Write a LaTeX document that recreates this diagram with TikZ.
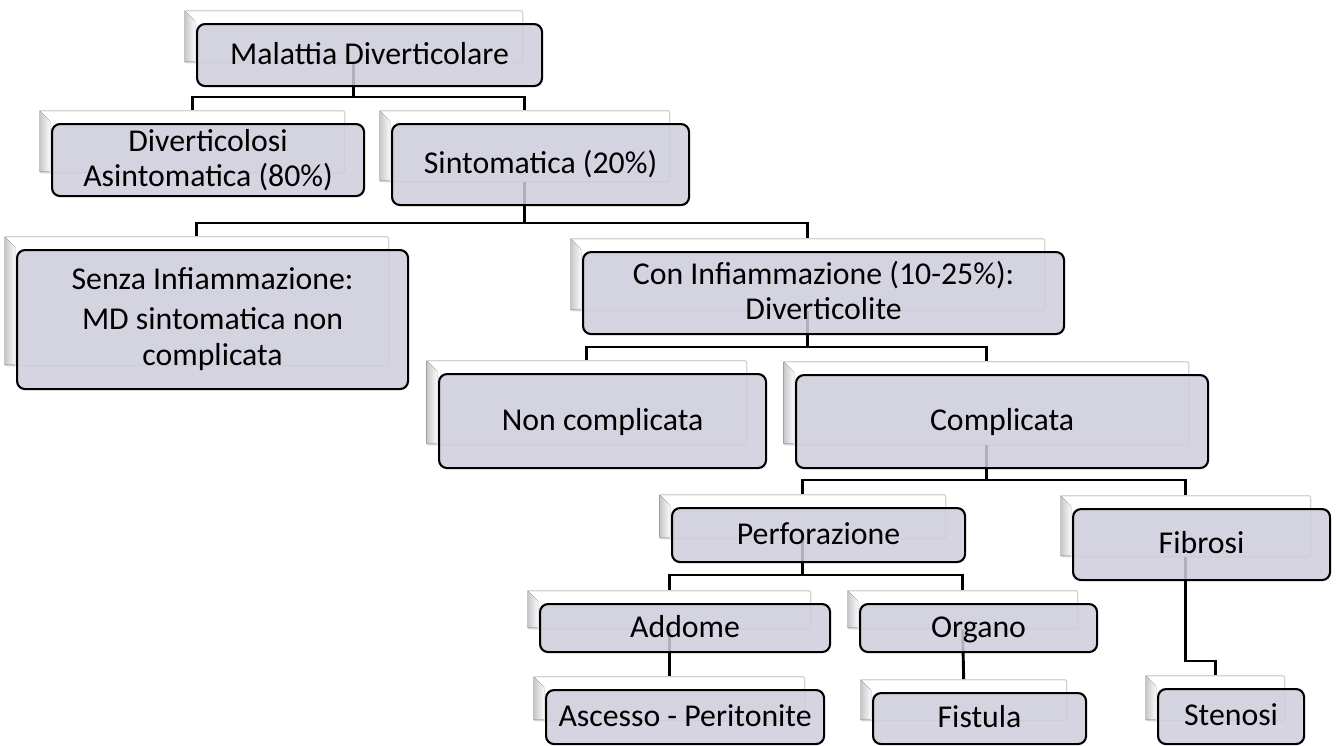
\documentclass[tikz,border=0pt]{standalone}
\usepackage{fontspec}
\setmainfont{Carlito}
\usetikzlibrary{calc}

\definecolor{boxfill}{RGB}{206,205,219}
\definecolor{ghostline}{RGB}{212,212,212}
\definecolor{bevel}{RGB}{200,200,204}

\tikzset{
  ghost/.style={draw=ghostline, line width=1.3pt, fill=white, rounded corners=2pt,
    inner sep=0pt, anchor=north west},
  orgnode/.style={draw=black, line width=2.1pt, fill=boxfill, fill opacity=0.86,
    text opacity=1, rounded corners=8pt, inner sep=0pt, anchor=north west,
    align=center, font=\fontsize{31.8}{35}\selectfont},
  conn/.style={draw=black, line width=2.9pt}
}

% struts that fix the height and depth of the first and last text lines
\newcommand\topstrut{\rule{0pt}{24pt}}
\newcommand\botstrut{\rule[-6pt]{0pt}{6pt}}

% back plate of a box: ghost outline and a shaded left bevel
% #1 id, #2 left, #3 top, #4 right, #5 bottom (of the front box)
\newcommand\backplate[5]{%
  \node[ghost, minimum width={#4-#2-7}, minimum height={#5-#3-10}]
    (g#1) at ({#2-12},{#3-13}) {};
  \fill[left color=bevel, right color=white!90!bevel]
    ({#2-11.3},{#3-12.3}) -- ({#2-1},{#3-2}) -- ({#2-1},{#5-23.7}) -- ({#2-11.3},{#5-23.7}) -- cycle;
}
% front box with its text
\newcommand\frontbox[6]{%
  \node[orgnode, minimum width={#4-#2}, minimum height={#5-#3}] (#1) at (#2,#3)
    {\topstrut#6\botstrut};
}

\begin{document}
\begin{tikzpicture}[x=1pt,y=-1pt]
\useasboundingbox (0,0) rectangle (1337,745);

% back plates
\backplate{mal}{196}{23}{541}{85}
\backplate{div}{51}{123}{363}{195}
\backplate{sin}{391}{123}{688}{204}
\backplate{sen}{16}{249}{407}{388}
\backplate{con}{582}{251}{1063}{333}
\backplate{non}{438}{373}{765}{467}
\backplate{com}{795}{374}{1207}{467}
\backplate{per}{671}{507}{964}{561}
\backplate{fib}{1072}{508}{1329}{579}
\backplate{add}{539}{603}{829}{651}
\backplate{org}{859}{603}{1096}{651}
\backplate{asc}{545}{689}{823}{743}
\backplate{fis}{872}{692}{1085}{743}
\backplate{ste}{1157}{688}{1303}{743}

% bus levels
\coordinate (b1) at (0,97);
\coordinate (b2) at (0,223);
\coordinate (b3) at (0,347);
\coordinate (b4) at (0,480);
\coordinate (b5) at (0,575);
\coordinate (b6) at (0,661);

% connectors
\draw[conn] (gmal.south) -- (gmal.south |- b1) -| (gdiv.north);
\draw[conn] (gmal.south |- b1) -| (gsin.north);
\draw[conn] (gsin.south) -- (gsin.south |- b2) -| (gsen.north);
\draw[conn] (gsin.south |- b2) -| (gcon.north);
\draw[conn] (gcon.south) -- (gcon.south |- b3) -| (gnon.north);
\draw[conn] (gcon.south |- b3) -| (gcom.north);
\draw[conn] (gcom.south) -- (gcom.south |- b4) -| (gper.north);
\draw[conn] (gcom.south |- b4) -| (gfib.north);
\draw[conn] (gper.south) -- (gper.south |- b5) -| (gadd.north);
\draw[conn] (gper.south |- b5) -| (gorg.north);
\draw[conn] (gadd.south) -- (gasc.north);
\draw[conn] (gorg.south) -- (gfis.north);
\draw[conn] (gfib.south) -- (gfib.south |- b6) -| (gste.north);

% front boxes
\frontbox{mal}{196}{23}{541}{85}{Malattia Diverticolare}
\frontbox{div}{51}{123}{363}{195}{Diverticolosi\\Asintomatica (80\%)}
\frontbox{sin}{391}{123}{688}{204}{Sintomatica (20\%)}
\frontbox{sen}{16}{249}{407}{388}{Senza Infiammazione:\\[5pt] MD sintomatica non\\[1pt]complicata\rule[-8pt]{0pt}{8pt}}
\frontbox{con}{582}{251}{1063}{333}{Con Infiammazione (10-25\%):\\Diverticolite}
\frontbox{non}{438}{373}{765}{467}{Non complicata}
\frontbox{com}{795}{374}{1207}{467}{Complicata}
\frontbox{per}{671}{507}{964}{561}{Perforazione}
\frontbox{fib}{1072}{508}{1329}{579}{Fibrosi}
\frontbox{add}{539}{603}{829}{651}{Addome}
\frontbox{org}{859}{603}{1096}{651}{Organo}
\frontbox{asc}{545}{689}{823}{743}{Ascesso - Peritonite}
\frontbox{fis}{872}{692}{1085}{743}{Fistula}
\frontbox{ste}{1157}{688}{1303}{743}{Stenosi}
\end{tikzpicture}
\end{document}
